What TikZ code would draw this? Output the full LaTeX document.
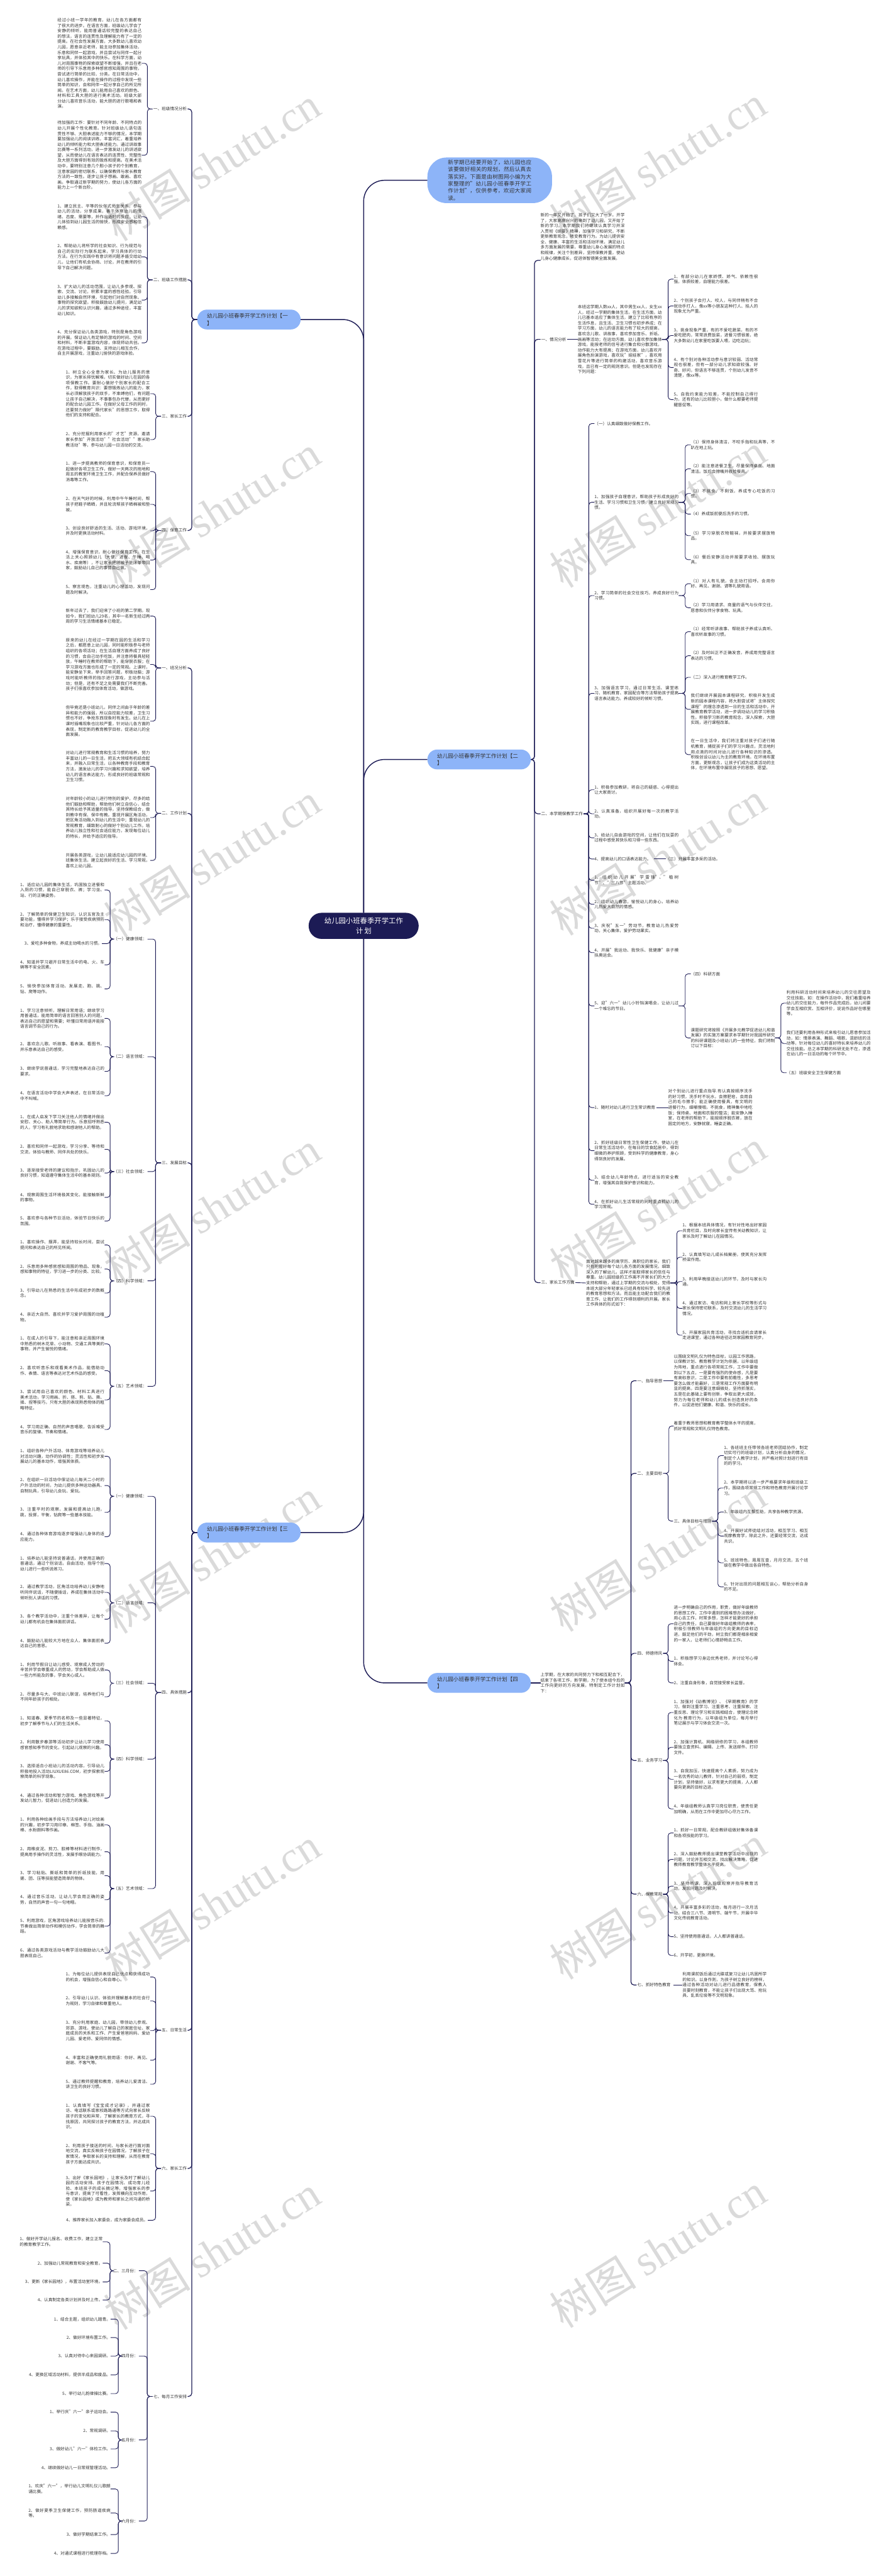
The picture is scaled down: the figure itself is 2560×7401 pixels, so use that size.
\documentclass[tikz,border=0pt]{standalone}
\usepackage{fontspec}
\setmainfont{Noto Sans CJK SC}
\newfontfamily\wmfont{Liberation Serif}
\XeTeXlinebreaklocale "zh"
\XeTeXlinebreakskip=0pt plus 1.5pt
\tolerance=9999
\hbadness=10000
\setlength\parindent{0pt}

\definecolor{navy}{HTML}{1C1B55}
\definecolor{skyfill}{HTML}{8DB4F8}
\definecolor{ink}{HTML}{333333}
\definecolor{wmgray}{HTML}{DADADA}

\tikzset{
  trunk/.style={draw=navy, line width=2.6pt, rounded corners=60pt},
  limb/.style={draw=navy, line width=2.2pt, rounded corners=9pt},
  twig/.style={draw=navy, line width=1.6pt, rounded corners=8pt},
  hub/.style={fill=navy, text=white, font=\fontsize{20.5}{27.7}\selectfont, text width=230pt, align=center, inner xsep=43pt, minimum height=75pt, rounded corners=37pt},
  topic/.style={fill=skyfill, text=ink, font=\fontsize{15.5}{21}\selectfont, text width=241pt, align=left, inner xsep=28pt, inner ysep=7pt, minimum height=57pt, rounded corners=28pt},
  intro/.style={topic, text width=240pt, inner xsep=59pt, minimum height=119pt, rounded corners=55pt, font=\fontsize{15.5}{20.5}\selectfont, align=justify},
  branch/.style={inner sep=2pt, text=ink, font=\fontsize{12}{15.5}\selectfont},
  leaf/.style={text width=242pt, align=justify, inner sep=0pt, text=ink, font=\fontsize{12}{15.5}\selectfont},
  note/.style={inner sep=0pt, text=ink, font=\fontsize{12}{15.5}\selectfont},
  wmark/.style={text=wmgray, rotate=32, inner sep=0pt, font=\fontsize{125}{125}\selectfont}
}

\begin{document}
\begin{tikzpicture}[x=1pt, y=-1pt]
\useasboundingbox (0,0) rectangle (2560,7401);

% Watermarks
\foreach \k in {0,...,6} {
  \node[wmark, anchor=south west] at (344,705+1000*\k) {树图 {\wmfont shutu.cn}};
  \node[wmark, anchor=south west] at (1625,700+1000*\k) {树图 {\wmfont shutu.cn}};
}

% Centre and main topics
\node[hub] (hub) at (1045,2660) {幼儿园小班春季开学工作\\计划};
\node[topic, anchor=east] (n1) at (864,918) {幼儿园小班春季开学工作计划【一\\】};
\node[topic, anchor=east] (n3) at (864,4403) {幼儿园小班春季开学工作计划【三\\】};
\node[intro, anchor=west] (pre) at (1228,518) {新学期已经要开始了，幼儿园也应该要做好相关的规划，然后认真去落实好。下面是由树图网小编为大家整理的"幼儿园小班春季开学工作计划"，仅供参考，欢迎大家阅读。};
\node[topic, anchor=west] (n2) at (1228,2182) {幼儿园小班春季开学工作计划【二\\】};
\node[topic, anchor=west] (n4) at (1228,4835) {幼儿园小班春季开学工作计划【四\\】};

\draw[trunk] (hub.north) |- (n1.east);
\draw[trunk] (hub.north) |- (pre.west);
\draw[trunk] (hub.north) |- (n2.west);
\draw[trunk] (hub.south) |- (n3.east);
\draw[trunk] (hub.south) |- (n4.west);

% ---------------- Plan 1 (left, top)
\foreach \n/\y/\txt in {l1/313/{一、班级情况分析}, l2/804/{二、班级工作措施}, l3/1196/{三、家长工作}, l4/1524/{四、保育工作}} {
  \node[branch, anchor=east] (\n) at (539,\y) {\txt};
  \draw[limb] (\n.east) -- ++(12,0) |- (n1.west);
}

\foreach \n/\y/\txt in {
  a1/182/{经过小班一学年的教育，幼儿在各方面都有了很大的进步。在语言方面，班级幼儿学会了安静的倾听，能用普通话较完整的表达自己的想法，语言的连贯性及理解能力有了一定的提高。在社会性发展方面，大多数幼儿喜欢幼儿园，愿意亲近老师，能主动参加集体活动，乐意和同伴一起游戏，并且尝试与同伴一起分享玩具，并体验其中的快乐。在科学方面，幼儿对周围事物的探索欲望不断增强，并且在老师的引导下乐意用多种感官感知周围的事物，尝试进行简单的比较、分类。在日常活动中，幼儿喜欢操作，并能在操作的过程中发现一些简单的知识，会和同伴一起分享自己的所见所闻。在艺术方面，幼儿能用自己喜欢的颜色、材料和工具大胆的进行美术活动。班级大部分幼儿喜欢音乐活动，能大胆的进行歌唱和表演。},
  a2/446/{待加强的工作：要针对不同年龄、不同特点的幼儿开展个性化教育。针对班级幼儿语句连贯性不够、大胆表述能力不够的情况，本学期要加强幼儿的阅读训练，丰富词汇，着重培养幼儿的倾听能力和大胆表述能力。通过讲故事比赛等一系列活动，进一步激发幼儿的讲述欲望，从而使幼儿在语言表达的连贯性、完整性及大胆方面得到有效的锻炼和提高。在美术活动中，要特别注意几个胆小孩子的个别教育，注意家园的密切联系，以确保教师与家长教育方法的一致性。逐步让孩子想画、敢画、喜欢画。争取通过新学期的努力，使幼儿各方面的能力上一个新台阶。}} {
  \node[leaf, anchor=west] (\n) at (165,\y) {\txt};
  \draw[twig] (\n.east) -- ++(16,0) |- (l1.west);
}

\foreach \n/\y/\txt in {
  b1/623/{1、建立民主、平等的伙伴式师生关系，参与幼儿的活动，分享成果，善于体察幼儿的情绪、态度、需要等，并作出适时的反应，让幼儿体验到幼儿园生活的愉快，形成安全感和信赖感。},
  b2/738/{2、帮助幼儿将所学的社会知识、行为规范与自己的实际行为联系起来，学习具体的行动方法。在行为实践中有意识将问题矛盾交给幼儿，让他们有机会协商、讨论，并在教师的引导下自己解决问题。},
  b3/862/{3、扩大幼儿的活动范围，让幼儿多参观、探索、交流、讨论，积累丰富的感性经验。引导幼儿多接触自然环境，引起他们对自然现象、事物的探究欲望。积极鼓励幼儿提问，满足幼儿的求知欲和认识兴趣，通过多种途径，丰富幼儿知识。},
  b4/985/{4、充分保证幼儿各类游戏，特别是角色游戏的开展。保证幼儿有足够的游戏的时间、空间和材料，不断丰富游戏内容，体现师幼共创。在游戏过程中，要鼓励、支持幼儿相互合作，自主开展游戏，注重幼儿愉快的游戏体验。}} {
  \node[leaf, anchor=west] (\n) at (165,\y) {\txt};
  \draw[twig] (\n.east) -- ++(16,0) |- (l2.west);
}

\foreach \n/\y/\txt in {
  c1/1131/{1、树立全心全意为家长、为幼儿服务的意识，为家长排忧解难，切实做好幼儿在园的各项保教工作。要耐心做好个别家长的配合工作，取得教育共识：要想锻炼幼儿的能力，家长必须解放孩子的双手，不束缚他们，有问题让孩子自己解决，不事事包办代替，从而更好的配合幼儿园工作。在做好父母工作的同时，还要努力做好"隔代家长"的思想工作，取得他们的支持和配合。},
  c2/1263/{2、充分挖掘利用家长的"才艺"资源，邀请家长参加"开放活动""社会活动""家长助教活动"等，参与幼儿园一日活动的交流。}} {
  \node[leaf, anchor=west] (\n) at (189,\y) {\txt};
  \draw[twig] (\n.east) -- ++(16,0) |- (l3.west);
}

\foreach \n/\y/\txt in {
  d1/1355/{1、进一步提高教师的保育意识，和保育员一起做好各项卫生工作，做好一天两次的拖地和周五的教室环境卫生工作，并配合保养员做好消毒等工作。},
  d2/1449/{2、在天气好的时候，利用中午午睡时间，帮孩子把鞋子晒晒，并且轮流帮孩子晒棉被和垫被。},
  d3/1525/{3、创设良好舒适的生活、活动、游戏环境，并及时更换活动材料。},
  d4/1609/{4、增强保育意识，耐心做好保育工作，在生活上关心照顾幼儿（大便、进餐、午睡、喝水、疾病等），不让家长把脏被子脏床单带回家，鼓励幼儿自己的事情自己做。},
  d5/1694/{5、察言观色，注重幼儿的心理活动，发现问题及时解决。}} {
  \node[leaf, anchor=west] (\n) at (189,\y) {\txt};
  \draw[twig] (\n.east) -- ++(16,0) |- (l4.west);
}

% ---------------- Plan 3 (left, bottom)
\foreach \n/\y/\txt in {m1/1919/{一、班况分析}, m2/2337/{二、工作计划}, m3/3341/{三、发展目标}, m4/4863/{四、具体措施}, m5/5833/{五、日常生活}, m6/6230/{六、家长工作}, m7/6885/{七、每月工作安排}} {
  \node[branch, anchor=east] (\n) at (539,\y) {\txt};
  \draw[limb] (\n.east) -- ++(12,0) |- (n3.west);
}

\foreach \n/\y/\txt in {
  e1/1770/{新年过去了，我们迎来了小班的第二学期。现如今，我们班幼儿29名，其中一名新生经过两周的学习生活情绪基本已稳定。},
  e2/1909/{原来的幼儿在经过一学期在园的生活和学习之后，都愿意上幼儿园，同时能积极参与老师组织的各项活动；在生活自理方面养成了良好的习惯，会自己动手吃饭，并注意将餐具轻轻放，午睡时在教师的帮助下，能穿脱衣服；在学习游戏方面也形成了一定的常规。上课时，能安静坐下来，举手回答问题，积极动脑；游戏时能听教师的指示进行游戏，主动参与活动；但是，还有不足之处需要我们不断完善。孩子们很喜欢参加体育活动，做游戏。},
  e3/2072/{但毕竟还是小班幼儿，同伴之间由于年龄的差异和能力的强弱，所以自控能力较差，卫生习惯也不好，争抢东西现象时有发生。幼儿在上课时插嘴现象也比较严重，针对幼儿各方面的表现，制定新的教育教学目标，促进幼儿的全面发展。}} {
  \node[leaf, anchor=west] (\n) at (189,\y) {\txt};
  \draw[twig] (\n.east) -- ++(16,0) |- (m1.west);
}

\foreach \n/\y/\txt in {
  f1/2202/{对幼儿进行常规教育和生活习惯的培养，努力丰富幼儿的一日生活，把五大领域有机结合起来，并融入日常生活，以各种教育手段和教育方法，激发幼儿的学习兴趣和求知欲望，培养幼儿的语言表达能力，形成良好的班级常规和卫生习惯。},
  f2/2349/{对年龄较小的幼儿进行特别的爱护，尽多的给他们鼓励和帮助，帮助他们树立自信心，结合其特长给予其适量的指导，坚持保教结合，做到教中有保、保中有教。重视开展区角活动，把区角活动融入到幼儿的生活中；重视幼儿的常规教育，细致耐心的做好个别幼儿工作。培养幼儿独立性和社会适应能力，发现每位幼儿的特长，并给予适应的指导。},
  f3/2472/{开展各类游戏，让幼儿能适应幼儿园的环境、班集体生活，建立起良好的生活、学习常规，喜欢上幼儿园。}} {
  \node[leaf, anchor=west] (\n) at (189,\y) {\txt};
  \draw[twig] (\n.east) -- ++(16,0) |- (m2.west);
}

% goals
\foreach \n/\y/\txt in {g1/2698/{（一）健康领域：}, g2/3036/{（二）语言领域：}, g3/3366/{（三）社会领域：}, g4/3680/{（四）科学领域：}, g5/3983/{（五）艺术领域：}} {
  \node[branch, anchor=east] (\n) at (424,\y) {\txt};
  \draw[twig] (\n.east) -- ++(23,0) |- (m3.west);
}

\foreach \n/\y/\txt in {
  ga1/2557/{1、适应幼儿园的集体生活，巩固独立进餐和入厕的习惯，能自己穿脱衣、裤；学习坐、站、行的正确姿势。},
  ga2/2642/{2、了解简单的保健卫生知识，认识五官及主要功能，懂得并学习保护；乐于接受疾病预防和治疗，懂得健康的重要性。},
  ga4/2772/{4、知道并学习避开日常生活中的电、火、车辆等不安全因素。},
  ga5/2841/{5、愉快参加体育活动，发展走、跑、跳、钻、爬等动作。}} {
  \node[leaf, anchor=west] (\n) at (58,\y) {\txt};
  \draw[twig] (\n.east) -- ++(16,0) |- (g1.west);
}
\node[note, anchor=east] (ga3) at (293,2711) {3、爱吃多种食物，养成主动喝水的习惯。};
\draw[twig] (ga3.east) -- ++(23,0) |- (g1.west);

\foreach \n/\y/\txt in {
  gb1/2926/{1、学习注意倾听，理解日常用语；继续学习用普通话，能用简单的语言回答别人的问题，表达自己的愿望和需要；听懂日常用语并能按语言调节自己的行为。},
  gb2/3007/{2、喜欢念儿歌、听故事、看表演、看图书，并乐意表达自己的感受。},
  gb3/3078/{3、继续学说普通话，学习完整地表达自己的要求。},
  gb4/3148/{4、在语言活动中学会大声表述，在日常活动中不叫喊。}} {
  \node[leaf, anchor=west] (\n) at (58,\y) {\txt};
  \draw[twig] (\n.east) -- ++(16,0) |- (g2.west);
}

\foreach \n/\y/\txt in {
  gc1/3224/{1、在成人启发下学习关注他人的情绪并做出安慰、关心、助人等简单行为。乐意招呼熟悉的人，学习有礼貌地求助和感谢他人的帮助。},
  gc2/3302/{2、喜欢和同伴一起游戏，学习分享、等待和交流，体验与教师、同伴共处的快乐。},
  gc3/3370/{3、逐渐接受老师的建议和指示，巩固幼儿的良好习惯，知道遵守集体生活中的基本规则。},
  gc4/3440/{4、观察周围生活环境极其变化，能接触新鲜的事物。},
  gc5/3508/{5、喜欢参与各种节日活动，体验节日快乐的氛围。}} {
  \node[leaf, anchor=west] (\n) at (58,\y) {\txt};
  \draw[twig] (\n.east) -- ++(16,0) |- (g3.west);
}

\foreach \n/\y/\txt in {
  gd1/3577/{1、喜欢操作、摆弄，能坚持较长时间，尝试提问和表达自己的所见所闻。},
  gd2/3646/{2、乐意用多种感官感知周围的物品、现象，感知事物的特征，学习进一步的分类、比较。},
  gd3/3715/{3、引导幼儿在熟悉的生活中形成初步的数概念。},
  gd4/3784/{4、亲近大自然、喜欢并学习爱护周围的动植物。}} {
  \node[leaf, anchor=west] (\n) at (58,\y) {\txt};
  \draw[twig] (\n.east) -- ++(16,0) |- (g4.west);
}

\foreach \n/\y/\txt in {
  ge1/3861/{1、在成人的引导下，能注意和亲近周围环境中熟悉的树木花草、小动物、交通工具等美的事物，并产生愉悦的情绪。},
  ge2/3938/{2、喜欢听音乐和观看美术作品，能借助动作、表情、语言等表达对艺术作品的感受。},
  ge3/4022/{3、尝试用自己喜欢的颜色、材料工具进行美术活动，学习用画、折、搭、剪、贴、撕、揉、捏等技巧，只有大胆的表现熟悉物体的粗略特征。},
  ge4/4107/{4、学习用正确、自然的声音唱歌，告诉难受音乐的旋律、节奏和情绪。}} {
  \node[leaf, anchor=west] (\n) at (58,\y) {\txt};
  \draw[twig] (\n.east) -- ++(16,0) |- (g5.west);
}

% measures
\foreach \n/\y/\txt in {h1/4299/{（一）健康领域：}, h2/4605/{（二）语言领域：}, h3/4836/{（三）社会领域：}, h4/5054/{（四）科学领域：}, h5/5426/{（五）艺术领域：}} {
  \node[branch, anchor=east] (\n) at (424,\y) {\txt};
  \draw[twig] (\n.east) -- ++(23,0) |- (m4.west);
}

\foreach \n/\y/\txt in {
  ha1/4184/{1、组织各种户外活动、体育游戏等培养幼儿对活动兴趣，动作的协调性；灵活性和初步发展幼儿的基本动作，增强其体质。},
  ha2/4268/{2、在组织一日活动中保证幼儿每天二小时的户外活动的时间，为幼儿提供多种运动器具、自制玩具，引导幼儿会玩、爱玩。},
  ha3/4345/{3、注重平时的观察，发展和提高幼儿跑，跳，投掷，平衡，钻爬等一些基本技能。},
  ha4/4415/{4、通过各种体育游戏逐步增强幼儿身体的适应能力。}} {
  \node[leaf, anchor=west] (\n) at (58,\y) {\txt};
  \draw[twig] (\n.east) -- ++(16,0) |- (h1.west);
}

\foreach \n/\y/\txt in {
  hb1/4492/{1、培养幼儿能坚持说普通话，并使用正确的普通话，通过个别谈话，自由活动，指导个别幼儿进行一些听说练习。},
  hb2/4575/{2、通过教学活动，区角活动培养幼儿安静地听同伴说话，不随便插话，养成在集体活动中倾听别人讲话的习惯。},
  hb3/4652/{3、各个教学活动中，注重个体差异，让每个幼儿都有机会在集体面前讲话。},
  hb4/4721/{4、鼓励幼儿能较大方地在众人、集体面前表达自己的意思。}} {
  \node[leaf, anchor=west] (\n) at (58,\y) {\txt};
  \draw[twig] (\n.east) -- ++(16,0) |- (h2.west);
}

\foreach \n/\y/\txt in {
  hc1/4798/{1、利用节假日让幼儿感受、观察成人劳动的辛苦并学会尊重成人的劳动，学会帮助成人做一些力所能及的事，学会关心成人。},
  hc2/4875/{2、尽量多与大、中班幼儿联谊，培养他们与不同年龄孩子的相处。}} {
  \node[leaf, anchor=west] (\n) at (58,\y) {\txt};
  \draw[twig] (\n.east) -- ++(16,0) |- (h3.west);
}

\foreach \n/\y/\txt in {
  hd1/4944/{1、知道春、夏季节的名称及一些显著特征，初步了解季节与人们的生活关系。},
  hd2/5013/{2、利用散步春游等活动初步让幼儿学习使用感官感知季节的变化，引起幼儿观察的兴趣。},
  hd3/5089/{3、选择适合小班幼儿的活动内容，引导幼儿积极地投入活动LIUXUE86.COM，初步探索观察简单的科学现象。},
  hd4/5166/{4、通过各种活动和智力游戏、角色游戏等开发幼儿智力，促进幼儿创造力的发展。}} {
  \node[leaf, anchor=west] (\n) at (58,\y) {\txt};
  \draw[twig] (\n.east) -- ++(16,0) |- (h4.west);
}

\foreach \n/\y/\txt in {
  he1/5243/{1、利用各种绘画手段与方法培养幼儿对绘画的兴趣，初步学习用印章、棉签、手指、油画棒、水粉颜料等作画。},
  he2/5320/{2、用橡皮泥、剪刀、胶棒等材料进行制作，提高用手操作的灵活性，发展手眼协调能力。},
  he3/5389/{3、学习粘贴、撕纸和简单的折纸技能，用搓、团、压等技能塑造简单的物体。},
  he4/5458/{4、通过音乐活动，让幼儿学会用正确的姿势，自然的声音一句一句地唱。},
  he5/5534/{5、利用游戏，区角游戏培养幼儿能按音乐的.节奏做出简单动作和模仿动作，学会简单的舞蹈。},
  he6/5611/{6、通过各类游戏活动与教学活动鼓励幼儿大胆表现自己。}} {
  \node[leaf, anchor=west] (\n) at (58,\y) {\txt};
  \draw[twig] (\n.east) -- ++(16,0) |- (h5.west);
}

\foreach \n/\y/\txt in {
  i1/5680/{1、为每位幼儿提供表现自己优点和获得成功的机会，增强自信心和自尊心。},
  i2/5749/{2、引导幼儿认识、体验并理解基本的社会行为规则，学习自律和尊重他人。},
  i3/5834/{3、充分利用家庭、幼儿园，带领幼儿参观、郊游、游戏，使幼儿了解自己的家庭住址、家庭成员的关系和工作、产生爱爸爸妈妈、爱幼儿园、爱老师、爱同伴的情感。},
  i4/5919/{4、丰富和正确使用礼貌用语：你好、再见、谢谢、不客气等。},
  i5/5988/{5、通过教师提醒和教育，培养幼儿爱清洁、讲卫生的良好习惯。}} {
  \node[leaf, anchor=west] (\n) at (189,\y) {\txt};
  \draw[twig] (\n.east) -- ++(16,0) |- (m5.west);
}

\foreach \n/\y/\txt in {
  j1/6080/{1、认真填写《宝宝成才记录》，并通过家访、电话联系或家校路路通等方式向家长反映孩子的变化和异常，了解家长的教育方式，寻找原因，共同探讨孩子的教育方法，并达成共识。},
  j2/6188/{2、利用孩子接送的时间，与家长进行面对面地交流，真实反映孩子在园情况，了解孩子在家情况，争取家长的支持和理解，从而在教育孩子方面达成共识。},
  j3/6295/{3、出好《家长园地》，让家长及时了解幼儿园的活动安排、孩子在园情况、成功育儿经验、本班孩子的成长摘记等，增强家长的参与意识，提高了可看性，发挥横向互动作用，使《家长园地》成为教师和家长之间沟通的桥梁。}} {
  \node[leaf, anchor=west] (\n) at (189,\y) {\txt};
  \draw[twig] (\n.east) -- ++(16,0) |- (m6.west);
}
\node[note, anchor=east] (j4) at (425,6379) {4、推荐家长加入家委会，成为家委会成员。};
\draw[twig] (j4.east) -- ++(22,0) |- (m6.west);

% monthly plan
\foreach \n/\y/\txt in {k1/6524/{二、三月份：}, k2/6769/{四月份：}, k3/7010/{五月份：}, k4/7243/{六月份：}} {
  \node[branch, anchor=east] (\n) at (399,\y) {\txt};
  \draw[twig] (\n.east) -- ++(24,0) |- (m7.west);
}

\node[leaf, text width=238pt, anchor=east] (ka1) at (295,6441) {1、做好开学幼儿报名、收费工作，建立正常的教育教学工作。};
\draw[twig] (ka1.east) -- ++(21,0) |- (k1.west);
\foreach \n/\y/\txt in {ka2/6502/{2、加强幼儿常规教育和安全教育。}, ka3/6556/{3、更新《家长园地》，布置活动室环境。}, ka4/6608/{4、认真制定各类计划并及时上传。}} {
  \node[note, anchor=east] (\n) at (295,\y) {\txt};
  \draw[twig] (\n.east) -- ++(21,0) |- (k1.west);
}

\foreach \n/\y/\txt in {kb1/6663/{1、结合主题，组织幼儿踏青。}, kb2/6716/{2、做好环境布置工作。}, kb3/6769/{3、认真对待中心来园调研。}, kb4/6823/{4、更换区域活动材料，提供半成品和废品。}, kb5/6877/{5、举行幼儿韵律操比赛。}} {
  \node[note, anchor=east] (\n) at (318,\y) {\txt};
  \draw[twig] (\n.east) -- ++(22,0) |- (k2.west);
}

\foreach \n/\y/\txt in {kc1/6930/{1、举行庆"六一"亲子运动会。}, kc2/6984/{2、常规调研。}, kc3/7036/{3、做好幼儿"六一"体检工作。}, kc4/7090/{4、继续做好幼儿一日常规管理活动。}} {
  \node[note, anchor=east] (\n) at (318,\y) {\txt};
  \draw[twig] (\n.east) -- ++(22,0) |- (k3.west);
}

\foreach \n/\y/\txt in {kd1/7151/{1、欢庆"六一"，举行幼儿文明礼仪儿歌朗诵比赛。}, kd2/7220/{2、做好夏季卫生保健工作，预防肠道疾病等。}} {
  \node[leaf, text width=236pt, anchor=east] (\n) at (318,\y) {\txt};
  \draw[twig] (\n.east) -- ++(22,0) |- (k4.west);
}
\foreach \n/\y/\txt in {kd3/7282/{3、做好学期结束工作。}, kd4/7336/{4、对通式课程进行梳理存档。}} {
  \node[note, anchor=east] (\n) at (318,\y) {\txt};
  \draw[twig] (\n.east) -- ++(22,0) |- (k4.west);
}

% ---------------- Plan 2 (right)
\node[leaf, anchor=west] (q0) at (1553,680) {新的一年又开始了，孩子们又大了一岁。开学了，大家高高兴兴的来到了幼儿园，又开始了新的学习。本学期我们将继续认真学习并深入贯彻《纲要》精神，加强学习和研究，不断更新教育观念，转变教育行为。为幼儿提供安全、健康、丰富的生活和活动环境，满足幼儿多方面发展的需要，尊重幼儿身心发展的特点和规律，关注个别差异，坚持保教并重，使幼儿身心健康成长，促进体智德美全面发展。};
\draw[limb] (q0.south west) -- ++(-17,0) |- (n2.east);

\foreach \n/\y/\txt in {p1/975/{一、情况分析}, p2/2338/{二、本学期保教学工作}, p3/3685/{三、家长工作方面}} {
  \node[branch, anchor=west] (\n) at (1553,\y) {\txt};
  \draw[limb] (\n.west) -- ++(-17,0) |- (n2.east);
}

\node[leaf, anchor=west] (q1) at (1660,975) {本班这学期人数xx人，其中男生xx人，女生xx人，经过一学期的集体生活，在生活方面，幼儿已基本适应了集体生活，建立了比较有序的生活作息，且生活、卫生习惯也初步养成；在学习方面，幼儿的语言能力有了较大的提高，喜欢念儿歌、讲故事，喜欢参加音乐、折纸、画画等活动；在运动方面，幼儿喜欢参加集体游戏，能按老师的信号进行集合和分散游戏，动作能力大有提高；在游戏方面，幼儿喜欢开展角色扮演游戏，喜欢玩"娃娃家"，喜欢用雪花片等进行简单的构建活动，喜欢音乐游戏，且已有一定的规则意识。但是也发现存在下列问题：};
\draw[twig] (p1.east) -- (q1.west);

\foreach \n/\y/\txt in {
  s1/802/{1、有部分幼儿在家娇惯、娇气、依赖性很强，体质较差，自理能力很差。},
  s2/879/{2、个别孩子会打人、咬人，与同伴稍有不合就动手打人，像xx等小朋友这种打人、掐人的现象尤为严重。},
  s3/964/{3、挑食现象严重，有的不爱吃蔬菜，有的不爱吃肥肉，常常浪费饭菜，进餐习惯很差，绝大多数幼儿在家里吃饭要人喂，边吃边玩；},
  s4/1056/{4、有个别对各种活动参与意识较弱、活动常规也很差，但有一部分幼儿求知欲较强、好奇、好问，但语言不够连贯，个别幼儿发音不清楚，像xx等。},
  s5/1148/{5、自我约束能力较差，不能控制自己得行为，还有的幼儿比较胆小，做什么都要老师提醒督促等。}} {
  \node[leaf, anchor=west] (\n) at (1936,\y) {\txt};
  \draw[twig] (\n.west) -- ++(-16,0) |- (q1.east);
}

\foreach \n/\y/\txt in {
  t1/1217/{（一）认真细致做好保教工作。},
  t2/1443/{1、加强孩子自理意识，帮助孩子形成良好的生活、学习习惯和卫生习惯，建立良好常规习惯。},
  t3/1711/{2、学习简单的社会交往技巧，养成良好行为习惯。},
  t4/1992/{3、加强语言学习，通过日常生活、课堂练习、随机教育、家园配合等方法帮助孩子提高语言表达能力。养成较好的倾听习惯。},
  t5/2269/{1、积极参加教研，将自己的疑惑、心得提出让大家商讨。},
  t6/2338/{2、认真准备，组织开展好每一次的教学活动。},
  t7/2407/{3、给幼儿自由游戏的空间，让他们在玩耍的过程中感受其快乐和习得一些东西。},
  t9/2529/{1、组织幼儿开展"学雷锋"、"植树节"、"三八节"主题活动。},
  t10/2598/{2、组织幼儿春游，愉悦幼儿的身心，培养幼儿热爱大自然的情感。},
  t11/2667/{3、庆祝"五一"劳动节，教育幼儿热爱劳动，关心集体，爱护劳动果实。},
  t12/2737/{4、开展"我运动、我快乐、我健康"亲子模拟奥运会。},
  t13/2890/{5、迎"六一"幼儿小铃铛演唱会，让幼儿过一个难忘的节日。},
  t15/3306/{2、抓好班级日常性卫生保健工作，使幼儿在日常生活活动中，在每日的饮食起居中，得到细微的养护照顾，受到科学的健康教育，身心得到良好的发展。},
  t16/3391/{3、结合幼儿年龄特点，进行适当的安全教育，增强其自我保护意识和能力。},
  t17/3460/{4、在抓好幼儿生活常规的同时重点抓幼儿的学习常规。}} {
  \node[leaf, anchor=west] (\n) at (1708,\y) {\txt};
  \draw[twig] (\n.west) -- ++(-16,0) |- (p2.east);
}
\node[note, anchor=west] (t8) at (1708,2468) {4、提高幼儿的口语表达能力。};
\node[note, anchor=west] (t8b) at (1913,2468) {（三）开展丰富多采的活动。};
\node[note, anchor=west] (t14) at (1708,3182) {1、随时对幼儿进行卫生常识教育};
\node[leaf, anchor=west] (z1) at (1920,3182) {对个别幼儿进行重点指导.有认真按顺序洗手的好习惯，洗手时不玩水，会擦肥皂，会用自己的毛巾擦手；能正确使用餐具，有文明的进餐行为，细嚼慢咽，不挑食，精神集中地吃饭；保持桌、地面和衣服的整洁；能安静入睡室，在老师的帮助下，能按顺序脱衣裤，放在固定的地方，安静就寝，睡姿正确。};
\foreach \n in {t8, t14}
  \draw[twig] (\n.west) -- ++(-16,0) |- (p2.east);
\draw[twig] (t8.east) ++(8,0) -- (t8b.west);
\draw[twig] (t14.east) ++(4,0) -- (z1.west);

\foreach \n/\y/\txt in {
  v1/1278/{（1）保持身体清洁，不咬手指和玩具等，不趴在地上玩。},
  v2/1347/{（2）能注意进餐卫生，尽量保持桌面、地面清洁。饭后会擦嘴并收拾餐具。},
  v3/1418/{（3）不挑食、不剩饭，养成专心吃饭的习惯。},
  v4/1477/{（4）养成饭前便后洗手的习惯。},
  v5/1539/{（5）学习穿脱衣物鞋袜，并按要求摆放物品。},
  v6/1608/{（6）餐后安静活动并按要求收拾、摆放玩具。}} {
  \node[leaf, anchor=west] (\n) at (1985,\y) {\txt};
  \draw[twig] (\n.west) -- ++(-16,0) |- (t2.east);
}

\foreach \n/\y/\txt in {
  w1/1677/{（1）对人有礼貌，会主动打招呼。会用你好、再见、谢谢、请等礼貌用语。},
  w2/1746/{（2）学习用请求、商量的语气与伙伴交往，愿意和伙伴分享食物、玩具。}} {
  \node[leaf, anchor=west] (\n) at (1985,\y) {\txt};
  \draw[twig] (\n.west) -- ++(-16,0) |- (t3.east);
}

\foreach \n/\y/\txt in {
  x1/1815/{（1）经常听讲故事、帮助孩子养成认真听、喜欢听故事的习惯。},
  x2/1884/{（2）及时纠正不正确发音，养成用完整语言表达的习惯。},
  x3/1946/{（二）深入进行教育教学工作。},
  x4/2038/{我们继续开展园本课程研究，积极开发生成新的园本课程内容，将大胆尝试将"主体探究课程"的理念渗透到一日的生活和活动中，开展教育教学活动，进一步调动幼儿的学习积极性。积极学习新的教育观念，深入探索，大胆实践，进行课程改革。},
  x5/2168/{在一日生活中，我们将注重对孩子们进行随机教育，捕捉孩子们的学习兴趣点，灵活地利用点滴的时间对幼儿进行各种知识的渗透。积极创设以幼儿为主的教育环境。在环境布置方面，更新观念，让孩子们成为这类活动的主体，在环境布置中展现孩子的思想、愿望。}} {
  \node[leaf, anchor=west] (\n) at (1985,\y) {\txt};
  \draw[twig] (\n.west) -- ++(-16,0) |- (t4.east);
}

\foreach \n/\y/\txt in {
  u1/2798/{（四）科研方面},
  u2/2982/{课题研究将按照《开展多元教学促进幼儿和谐发展》的实施方案要求本学期针对我园所研究的科研课题及小班幼儿的一些特征，我们将制订以下目标：}} {
  \node[leaf, anchor=west] (\n) at (1985,\y) {\txt};
  \draw[twig] (\n.west) -- ++(-16,0) |- (t13.east);
}

\foreach \n/\y/\txt in {
  y1/2882/{利用科研活动时间来培养幼儿的交往愿望及交往技能。如：在操作活动中，我们着重培养幼儿的交往能力，每件作品完成后，幼儿间要学会互相欣赏、互相评价，说说作品好在哪里等。},
  y2/2998/{我们还要利用各种形式来吸引幼儿愿意参加活动，如：情景表演、舞蹈、唱歌、混龄班的活动等，针对每位幼儿的喜好特长来培养幼儿的交往技能。总之本学期的科研无处不在，渗透在幼儿的一日活动的每个环节中。},
  y3/3082/{（五）班级安全卫生保健方面}} {
  \node[leaf, anchor=west] (\n) at (2260,\y) {\txt};
  \draw[twig] (\n.west) -- ++(-16,0) |- (u2.east);
}

\node[leaf, anchor=west] (s0) at (1684,3686) {面对越来越多的高学历、高职位的家长，我们只有把握好每个幼儿各方面的发展情况，细致深入的了解幼儿，这样才能取得家长的信任与尊重。幼儿园班级的工作离不开家长们的大力支持和帮助，通过上学期的交流与相处，觉得本班大部分年轻家长已经具有较科学、较先进的教育思想和方法。而且能主动配合我们的教育工作，让我们的工作得到顺利的开展。家长工作具体的形式如下：};
\draw[twig] (p3.east) -- (s0.west);

\foreach \n/\y/\txt in {
  r1/3536/{1、根据本班具体情况，有针对性地出好家园共育栏目，及时向家长宣传有关幼教知识，让家长及时了解幼儿在园情况。},
  r2/3612/{2、认真填写幼儿成长档案册，使其充分发挥桥梁作用。},
  r3/3682/{3、利用早晚接送幼儿的环节，及时与家长沟通。},
  r4/3759/{4、通过家访、电访和网上家长学校等形式与家长保持密切联系，及时交流幼儿的生活学习情况。},
  r5/3836/{5、开展家园共育活动，寻找合适机会请家长走进课堂，通过各种途径达到家园教育同步。}} {
  \node[leaf, anchor=west] (\n) at (1961,\y) {\txt};
  \draw[twig] (\n.west) -- ++(-16,0) |- (s0.east);
}

% ---------------- Plan 4 (right, bottom)
\node[leaf, anchor=west] (w0) at (1553,4835) {上学期，在大家的共同努力下和相互配合下，结束了各项工作，新学期，为了使本组今后的工作向更好的方向发展，特制定工作计划如下：};
\draw[limb] (n4.east) -- (w0.west);

\foreach \n/\y/\txt in {o1/3967/{一、指导思想}, o2/4233/{二、主要目标}, o3/4750/{四、师德师风}, o4/5058/{五、业务学习}, o5/5442/{六、保教常规}, o6/5703/{七、抓好特色教育}} {
  \node[branch, anchor=west] (\n) at (1829,\y) {\txt};
  \draw[limb] (\n.west) -- ++(-16,0) |- (w0.east);
}

\node[leaf, anchor=west] (oa) at (1936,3967) {以围绕文明礼仪为特色目标，以园工作思路，以保教计划、教育教学计划为依据，以年级组为阵地，重点进行各项常规工作，工作中要做到以下五点，一是要有强烈的使命感，凡是要有高标意识，二是工作中要有前瞻性，多思考要怎么做才能最好，三是常规工作方面要有明显的提高，四是要注意细微处，坚持抓落实，五是在此基础上要有创新，争取出更大成效，努力为每位老师和幼儿的成长创造良好的条件，以促进他们健康、和谐、快乐的成长。};
\draw[twig] (o1.east) -- (oa.west);

\node[leaf, anchor=west] (ob1) at (1936,4097) {着重于教师思想和教育教学整体水平的提高，抓好常规和文明礼仪特色教育。};
\node[branch, anchor=west] (ob2) at (1934,4370) {三、具体目标与措施};
\foreach \n in {ob1, ob2}
  \draw[twig] (\n.west) -- ++(-14,0) |- (o2.east);

\foreach \n/\y/\txt in {
  oc1/4182/{1、各班班主任带领各班老师团结协作，制定切实可行的班级计划，认真分析自身的情况，制定个人教学计划，并严格对照计划进行有目的的学习。},
  oc2/4275/{2、本学期将以进一步严格要求年级和班级工作，围绕各项常规工作和特色教育开展讨论学习。},
  oc3/4344/{3、年级组内互帮互助，共享各种教学资源。},
  oc4/4413/{4、开展好试师徒结对活动，相互学习、相互观摩教育学，除此之外，还要经常交流，达成共识。},
  oc5/4490/{5、班班特色，周周互查，月月交流，五个班级在教学中做出各自特色。},
  oc6/4559/{6、针对出现的问题相互谈心，帮助分析自身的不足。}} {
  \node[leaf, anchor=west] (\n) at (2080,\y) {\txt};
  \draw[twig] (\n.west) -- ++(-17,0) |- (ob2.east);
}

\foreach \n/\y/\txt in {
  od1/4665/{进一步明确自己的作用，职责，做好年级教师的思想工作，工作中遇到的困难想办法做好，用心去工作，时常多想，怎样才能更好的承担自己的责任，自己要做好年级组教师的表率，积极引领教师与年级组的方向更高的目标迈进，鼓足他们的干劲，树立我们都是相亲相爱的一家人，让老师们心情舒畅去工作。},
  od2/4773/{1、积极想学习身边优秀老师，并讨论写心得体会。},
  od3/4835/{2、注重自身形象，自觉接受家长监督。}} {
  \node[leaf, anchor=west] (\n) at (1936,\y) {\txt};
  \draw[twig] (\n.west) -- ++(-16,0) |- (o3.east);
}

\foreach \n/\y/\txt in {
  oe1/4920/{1、加强对《幼教博览》、《早期教育》的学习，做到注重学习、注重思考、注重探索、注重反思、理论学习和实践相结合，使理论念转化为 教育行为，以年级组为单位，每月举行笔记展示与学习体会交流一次。},
  oe2/5020/{2、加强计算机、网络研修的学习，本组教师要独立查资料、编辑、上传、发送邮件、打印文件。},
  oe3/5112/{3、自我加压，快速提高个人素质，努力成为一名优秀的幼儿教师，针对自己的弱项，制定计划，坚持做好，以求有更大的提高，人人都要向更高的目标迈进。},
  oe4/5197/{4、年级组教师认真学习岗位职责，使责任更加明确，从而在工作中更加尽心尽力工作。}} {
  \node[leaf, anchor=west] (\n) at (1936,\y) {\txt};
  \draw[twig] (\n.west) -- ++(-16,0) |- (o4.east);
}

\foreach \n/\y/\txt in {
  of1/5266/{1、抓好一日常规，配合教研组做好集体备课和各项技能的学习。},
  of2/5342/{2、深入鼓励教师提出课堂教学活动中出现的问题，讨论并互相交流，找出解决策略，促进教师教育教学整体水平提高。},
  of3/5419/{3、坚持听课，深入班级观察并指导教育活动，发现问题及时解决。},
  of4/5496/{4、开展丰富多彩的活动，每月进行一次月活动，结合三八节、清明节、端午节，开展中华文化传统教育活动。},
  of5/5564/{5、坚持使用普通话，人人都讲普通话。},
  of6/5618/{6、开学初，更换环境。}} {
  \node[leaf, anchor=west] (\n) at (1936,\y) {\txt};
  \draw[twig] (\n.west) -- ++(-16,0) |- (o5.east);
}

\node[leaf, anchor=west] (og) at (1961,5703) {利用课前饭后通过光碟或复习让幼儿巩固所学的知识。以身作则，为孩子树立良好的榜样，通过各种活动对幼儿进行品德教育，保教人员要时刻教育，不能让孩子们出现大骂、抢玩具、乱丢垃圾等不文明现象。};
\draw[twig] (o6.east) ++(6,0) -- (og.west);

\end{tikzpicture}
\end{document}
